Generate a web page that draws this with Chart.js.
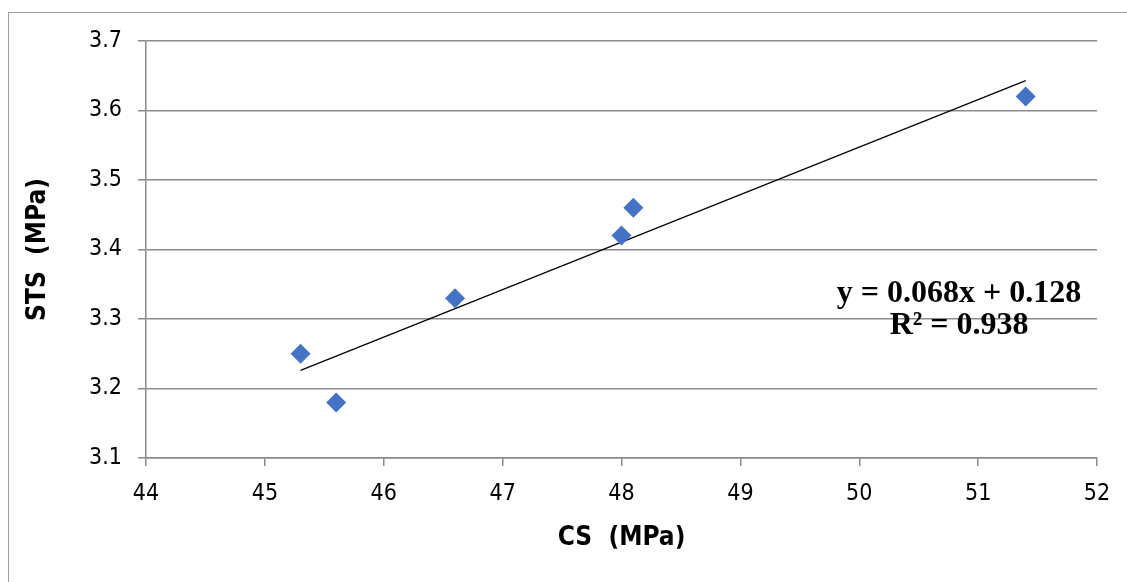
<!DOCTYPE html>
<html>
<head>
<meta charset="utf-8">
<script src="https://cdn.jsdelivr.net/npm/chart.js@4"></script>
<style>
  html, body { margin: 0; padding: 0; background: #fff; }
  #wrap { width: 1127px; height: 582px; position: relative; }
</style>
</head>
<body>
<div id="wrap"><canvas id="chart" width="1127" height="582"></canvas></div>
<script>
// measured values (CS vs STS)
const csValues = [45.3, 45.6, 46.6, 48.0, 48.1, 51.4];
const stsValues = [3.25, 3.18, 3.33, 3.42, 3.46, 3.62];

// trendline end points as drawn
const trendX = [45.3, 51.4];
const trendY = [3.226, 3.643];

const xTicks = [44, 45, 46, 47, 48, 49, 50, 51, 52];
const yTicks = [3.1, 3.2, 3.3, 3.4, 3.5, 3.6, 3.7];

const equationLines = ['y = 0.068x + 0.128', 'R\u00B2 = 0.938'];
const equationAnchor = { x: 50.84, y: [3.337, 3.29] };

const axisFont = "'Liberation Sans Narrow', 'DejaVu Sans Condensed', sans-serif";
const gridColor = '#8a8a8a';

const framePlugin = {
  id: 'frame',
  beforeDraw(chart) {
    const ctx = chart.ctx;
    ctx.save();
    ctx.strokeStyle = '#a0a0a0';
    ctx.lineWidth = 1;
    ctx.strokeRect(8.5, 12.5, chart.width + 10, chart.height + 10);
    ctx.restore();
  }
};

const equationPlugin = {
  id: 'equation',
  afterDatasetsDraw(chart) {
    const ctx = chart.ctx;
    const xs = chart.scales.x, ys = chart.scales.y;
    ctx.save();
    ctx.fillStyle = '#000';
    ctx.font = "bold 32px 'Liberation Serif', 'DejaVu Serif', serif";
    ctx.textAlign = 'center';
    ctx.textBaseline = 'middle';
    equationLines.forEach((t, i) => {
      ctx.fillText(t, xs.getPixelForValue(equationAnchor.x), ys.getPixelForValue(equationAnchor.y[i]));
    });
    ctx.restore();
  }
};

const points = csValues.map((x, i) => ({ x: x, y: stsValues[i] }));
const trend = trendX.map((x, i) => ({ x: x, y: trendY[i] }));

new Chart(document.getElementById('chart'), {
  type: 'scatter',
  data: {
    datasets: [
      {
        label: 'STS',
        data: points,
        pointStyle: 'rectRot',
        pointRadius: 10,
        pointHoverRadius: 10,
        backgroundColor: '#4472C4',
        borderColor: '#4472C4',
        borderWidth: 0,
        order: 1
      },
      {
        type: 'line',
        label: 'Linear',
        data: trend,
        borderColor: '#000',
        borderWidth: 1.2,
        pointRadius: 0,
        fill: false,
        order: 2
      }
    ]
  },
  options: {
    responsive: false,
    animation: false,
    layout: { padding: { left: 10, top: 41, right: 30, bottom: 0 } },
    plugins: {
      legend: { display: false },
      tooltip: { enabled: false }
    },
    scales: {
      x: {
        type: 'linear',
        min: 44,
        max: 52,
        afterFit(scale) { scale.height = 124; },
        afterBuildTicks(scale) { scale.ticks = xTicks.map(v => ({ value: v })); },
        border: { display: true, color: gridColor, width: 1.5 },
        grid: { drawOnChartArea: false, drawTicks: true, tickLength: 8, color: gridColor, lineWidth: 1.5 },
        ticks: { color: '#000', padding: 14, font: { family: axisFont, size: 23 } },
        title: {
          display: true,
          text: 'CS  (MPa)',
          color: '#000',
          font: { family: axisFont, size: 26, weight: 'bold' },
          padding: { top: 4, bottom: 28 }
        }
      },
      y: {
        type: 'linear',
        min: 3.1,
        max: 3.7,
        afterFit(scale) { scale.width = 136; },
        afterBuildTicks(scale) { scale.ticks = yTicks.map(v => ({ value: v })); },
        border: { display: true, color: gridColor, width: 1.5 },
        grid: { drawOnChartArea: true, drawTicks: true, tickLength: 8, color: gridColor, lineWidth: 1.5 },
        ticks: {
          color: '#000',
          padding: 16,
          font: { family: axisFont, size: 23 },
          callback: v => v.toFixed(1)
        },
        title: {
          display: true,
          text: 'STS  (MPa)',
          color: '#000',
          font: { family: axisFont, size: 26, weight: 'bold' },
          padding: { top: 13, bottom: 0 }
        }
      }
    }
  },
  plugins: [framePlugin, equationPlugin]
});
</script>
</body>
</html>
